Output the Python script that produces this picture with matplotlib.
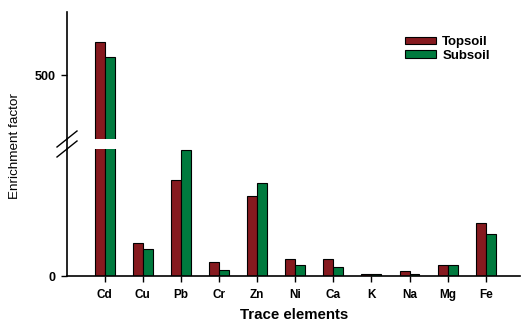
import matplotlib
matplotlib.use("Agg")
import matplotlib.pyplot as plt
from matplotlib.lines import Line2D
from matplotlib.patches import Patch
import numpy as np

elements = ["Cd", "Cu", "Pb", "Cr", "Zn", "Ni", "Ca", "K", "Na", "Mg", "Fe"]
topsoil = [552.8, 26.0, 75.8, 11.5, 63.2, 13.4, 13.9, 1.6, 4.2, 8.7, 42.2]
subsoil = [529.6, 21.3, 99.4, 5.0, 73.2, 8.7, 7.3, 1.6, 2.0, 8.7, 33.0]
upper_ticks = [500]
lower_ticks = [0]

red = "#861a1f"
green = "#007a3e"
plt.rcParams["font.family"] = ["Liberation Sans", "DejaVu Sans"]

W, H = 522, 321
fig = plt.figure(figsize=(W / 100, H / 100), dpi=100)

def fx(px):
    return px / W

def fy(py):
    return 1 - py / H

left, right = 67, 520
ax_lo = fig.add_axes([fx(left), fy(276.3), fx(right - left), fy(149) - fy(276.3)])
ax_hi = fig.add_axes([fx(left), fy(139), fx(right - left), fy(12) - fy(139)])

x = np.arange(len(elements))
w = 0.262
for ax in (ax_lo, ax_hi):
    ax.bar(x - w / 2, topsoil, w, color=red, edgecolor="black", linewidth=0.8, label="Topsoil")
    ax.bar(x + w / 2, subsoil, w, color=green, edgecolor="black", linewidth=0.8, label="Subsoil")
    ax.set_xlim(-0.99, 10.9)
    ax.spines["top"].set_visible(False)
    ax.spines["right"].set_visible(False)
    ax.spines["left"].set_linewidth(1.2)
    ax.tick_params(axis="y", length=4, width=1, pad=4)

ax_lo.set_ylim(0, 100)
ax_lo.set_yticks(lower_ticks)
ax_lo.set_yticklabels([str(v) for v in lower_ticks], fontweight="bold", fontsize=9)
ax_lo.set_xticks(x)
ax_lo.set_xticklabels(elements, fontweight="bold", fontsize=8.5)
ax_lo.tick_params(axis="x", length=4, width=1, pad=5)
ax_lo.spines["bottom"].set_linewidth(1.2)

ax_hi.set_ylim(400, 600)
ax_hi.set_yticks(upper_ticks)
ax_hi.set_yticklabels([str(v) for v in upper_ticks], fontweight="bold", fontsize=9)
ax_hi.spines["bottom"].set_visible(False)
ax_hi.set_xticks([])

# continuous y-axis through the gap
fig.add_artist(Line2D([fx(left), fx(left)], [fy(149), fy(139)], color="black", linewidth=1.2))
# break marks
for dy in (0, 10):
    fig.add_artist(Line2D([fx(57), fx(77)], [fy(147 + dy), fy(131 + dy)], color="black", linewidth=1.0))

fig.text(fx(15), fy(146), "Enrichment factor", rotation=90, ha="center", va="center", fontsize=9.7)
fig.text(fx(294.5), fy(319), "Trace elements", ha="center", va="baseline",
         fontsize=10.8, fontweight="bold")

handles = [Patch(facecolor=red, edgecolor="black", linewidth=0.8),
           Patch(facecolor=green, edgecolor="black", linewidth=0.8)]
fig.legend(handles, ["Topsoil", "Subsoil"], loc="upper left",
           bbox_to_anchor=(fx(396), fy(27)), frameon=False,
           prop={"weight": "bold", "size": 9.5}, handlelength=2.3, handleheight=0.5,
           labelspacing=0.1, handletextpad=0.5, borderpad=0.2)

fig.savefig("out.png", dpi=100)
